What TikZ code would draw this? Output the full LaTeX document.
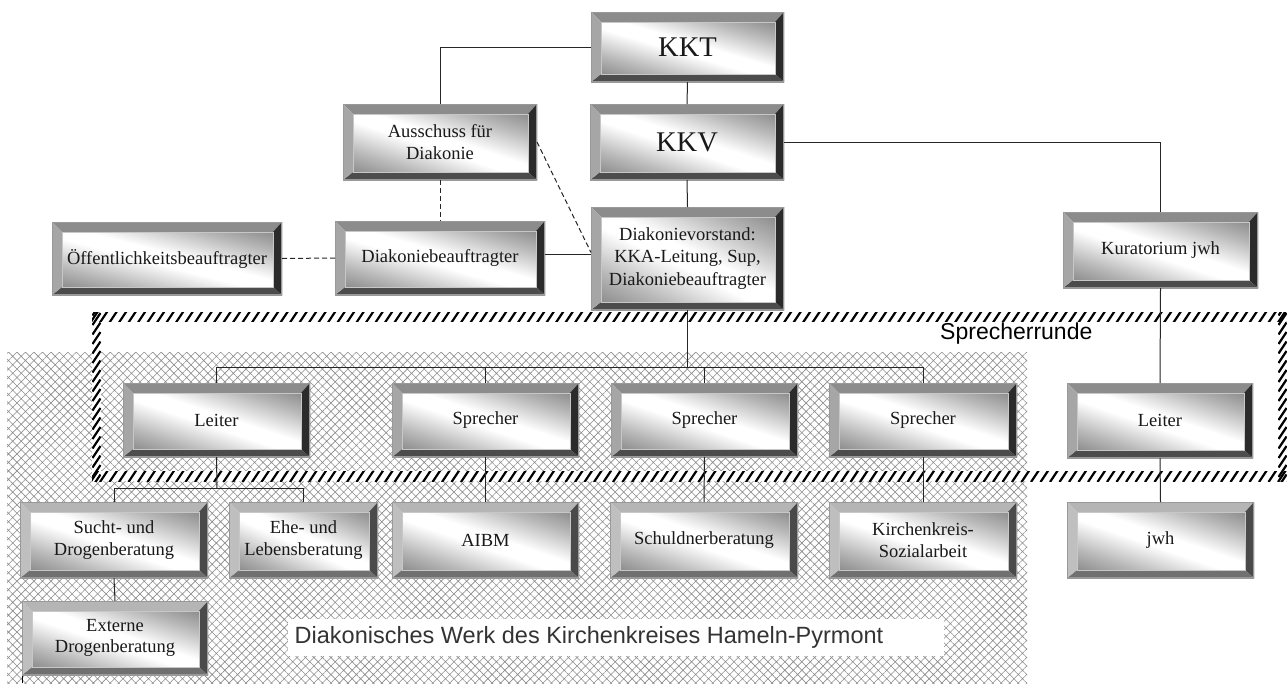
\documentclass[tikz,border=0pt]{standalone}
\usepackage{fontspec}
\setmainfont{Liberation Serif}
\newfontfamily\sansf{Liberation Sans}
\usetikzlibrary{calc,patterns.meta,decorations.markings}
\pgfdeclareverticalshading{bevface}{100bp}{color(0bp)=(black!45); color(18bp)=(black!28); color(44bp)=(white); color(56bp)=(white); color(82bp)=(black!28); color(100bp)=(black!45)}
\newdimen\bvXa \newdimen\bvYa \newdimen\bvXb \newdimen\bvYb
\begin{document}
\begin{tikzpicture}[x=1pt,y=-1pt,
  bevbox/.style n args={4}{rectangle, inner sep=0pt, outer sep=0pt, align=center, text=black!90,
    font=\fontsize{18.5}{21.5}\selectfont,
    path picture={
      \coordinate (bvA) at (path picture bounding box.north west);
      \coordinate (bvB) at (path picture bounding box.north east);
      \coordinate (bvC) at (path picture bounding box.south east);
      \coordinate (bvD) at (path picture bounding box.south west);
      \coordinate (bvE) at ($(bvA)+(10pt,-10pt)$);
      \coordinate (bvF) at ($(bvB)+(-9pt,-10pt)$);
      \coordinate (bvG) at ($(bvC)+(-9pt,8pt)$);
      \coordinate (bvH) at ($(bvD)+(10pt,8pt)$);
      \fill[#1] (bvA) -- (bvB) -- (bvF) -- (bvE) -- cycle;
      \fill[#3] (bvB) -- (bvC) -- (bvG) -- (bvF) -- cycle;
      \fill[#4] (bvC) -- (bvD) -- (bvH) -- (bvG) -- cycle;
      \fill[#2] (bvD) -- (bvA) -- (bvE) -- (bvH) -- cycle;
      \pgfextractx{\bvXa}{\pgfpointanchor{bvE}{center}}
      \pgfextracty{\bvYa}{\pgfpointanchor{bvE}{center}}
      \pgfextractx{\bvXb}{\pgfpointanchor{bvG}{center}}
      \pgfextracty{\bvYb}{\pgfpointanchor{bvG}{center}}
      \begin{scope}
        \clip (bvE) rectangle (bvG);
        \pgfmathsetmacro\bvsx{abs(\bvXb-\bvXa)/100.375*1.42}
        \pgfmathsetmacro\bvsy{abs(\bvYb-\bvYa)/100.375*1.42}
        \pgftransformcm{\bvsx}{0}{0}{\bvsy}{\pgfpoint{0.5\bvXa+0.5\bvXb}{0.5\bvYa+0.5\bvYb}}
        \pgftransformrotate{-45}
        \pgflowlevelsynccm
        \pgfuseshading{bevface}
      \end{scope}
      \draw[black!22, line width=0.8pt] (bvE) rectangle (bvG);
      \draw[black!40, line width=1.4pt] (bvA) rectangle (bvC);
    }},
  darkbev/.style={bevbox={black!45}{black!35}{black!83}{black!70}},
  lightbev/.style={bevbox={black!29}{black!25}{black!71}{black!56}},
  sz/.style 2 args={minimum width=#1pt, minimum height=#2pt},
  bigtext/.style={font=\fontsize{28.5}{32}\selectfont},
  conn/.style={draw=black!85, line width=1pt},
  dconn/.style={draw=black!85, line width=1pt, dash pattern=on 5pt off 3pt},
  hm/.style={decoration={markings, mark=between positions 0 and 1 step 9.5pt with {\draw[line width=2.2pt] (-4pt,-6pt) -- (4pt,6pt);}}, decorate},
  vm/.style={decoration={markings, mark=between positions 0 and 1 step 9.5pt with {\draw[line width=2.2pt] (-6pt,4pt) -- (6pt,-4pt);}}, decorate}
]
\fill[white] (0,0) rectangle (1287,683);
\useasboundingbox (0,0) rectangle (1287,683);

% crosshatched area
\fill[pattern={Hatch[angle=45,distance=6pt,line width=0.6pt]}, pattern color=black!45] (7,352) rectangle (1027,683);
\fill[white] (288,619) rectangle (944,656);
\node[font=\sansf\fontsize{23.5}{26}\selectfont, text=black!80, anchor=west, inner sep=0pt] (dw) at (294.5,637.5) {Diakonisches Werk des Kirchenkreises Hameln-Pyrmont};

% Sprecherrunde band
\fill[white, even odd rule] (92,312) rectangle (1287,481) (101,321) rectangle (1278,471);
\begin{scope}\clip (92,312) rectangle (1287,321); \path[hm] (85,316.5) -- (1295,316.5); \end{scope}
\begin{scope}\clip (92,471) rectangle (1287,481); \path[hm] (85,476) -- (1295,476); \end{scope}
\begin{scope}\clip (92,312) rectangle (101,481); \path[vm] (96.5,490) -- (96.5,305); \end{scope}
\begin{scope}\clip (1278,312) rectangle (1287,481); \path[vm] (1282.5,490) -- (1282.5,305); \end{scope}
\node[font=\sansf\fontsize{23}{26}\selectfont, anchor=base west, inner sep=0pt] (sr) at (940,339) {Sprecherrunde};

% boxes
\node[darkbev, bigtext, sz={193}{70}] (KKT) at (687.5,47) {KKT};
\node[darkbev, bigtext, sz={194}{76}] (KKV) at (687,142) {KKV};
\node[darkbev, sz={194}{76}] (AUS) at (440,142) {Ausschuss f\"ur\\Diakonie};
\node[darkbev, sz={210}{74}] (DB) at (440,258) {Diakoniebeauftragter};
\node[darkbev, sz={230}{73}] (OEF) at (167,258.5) {\"Offentlichkeitsbeauftragter};
\node[darkbev, sz={193}{103}, font=\fontsize{18.5}{22.5}\selectfont] (DV) at (687.5,258.5) {Diakonievorstand:\\KKA-Leitung, Sup,\\Diakoniebeauftragter};
\node[darkbev, sz={195}{76}] (KUR) at (1160.5,250) {Kuratorium jwh};
\node[darkbev, sz={187}{74}] (LL) at (216.5,420) {Leiter};
\node[darkbev, sz={187}{74}] (S1) at (485.5,420) {Sprecher};
\node[darkbev, sz={187}{74}] (S2) at (704.5,420) {Sprecher};
\node[darkbev, sz={188}{74}] (S3) at (923,420) {Sprecher};
\node[darkbev, sz={186}{75}] (LR) at (1160,420.5) {Leiter};
\node[lightbev, sz={188}{76}] (SU) at (114,540) {Sucht- und\\Drogenberatung};
\node[lightbev, sz={149}{76}] (EHE) at (303.5,540) {Ehe- und\\Lebensberatung};
\node[lightbev, sz={187}{76}] (AIBM) at (485.5,540) {AIBM};
\node[lightbev, sz={188}{76}] (SCH) at (704,540) {Schuldnerberatung};
\node[lightbev, sz={188}{76}] (KKS) at (923,540) {Kirchenkreis-\\Sozialarbeit};
\node[lightbev, sz={187}{76}] (JWH) at (1160.5,540) {jwh};
\node[lightbev, sz={186}{74}] (EXT) at (115,638) {Externe\\Drogenberatung};

% connectors
\coordinate (bus) at (687.5,367);
\coordinate (bus2) at (217,488);
\draw[conn] (AUS.north) |- (KKT.west);
\draw[conn] (KKT.south) -- (KKV.north);
\draw[conn] (KKV.east) -| (KUR.north);
\draw[conn] (KKV.south) -- (DV.north);
\draw[conn] ([yshift=4pt]DB.east) -- ([yshift=4pt]DB.east -| DV.west);
\draw[dconn] (OEF.east) -- (DB.west);
\draw[dconn] (AUS.south) -- (DB.north);
\draw[dconn] (AUS.east) -- ([yshift=6pt]DV.west);
\draw[conn] (DV.south) -- (bus);
\draw[conn] (LL.north) -- (LL.north |- bus) -- (S3.north |- bus) -- (S3.north);
\draw[conn] (S1.north) -- (S1.north |- bus);
\draw[conn] (S2.north) -- (S2.north |- bus);
\draw[conn] (KUR.south) -- (LR.north);
\draw[conn] (LR.south) -- (JWH.north);
\draw[conn] (LL.south) -- (bus2);
\draw[conn] (SU.north) -- (SU.north |- bus2) -- (EHE.north |- bus2) -- (EHE.north);
\draw[conn] (S1.south) -- (AIBM.north);
\draw[conn] (S2.south) -- (SCH.north);
\draw[conn] (S3.south) -- (KKS.north);
\draw[conn] (SU.south) -- (EXT.north);
\coordinate (tk) at (22.5,676);
\draw[line width=0.8pt] (tk) -- ++(0,7);
\end{tikzpicture}
\end{document}
